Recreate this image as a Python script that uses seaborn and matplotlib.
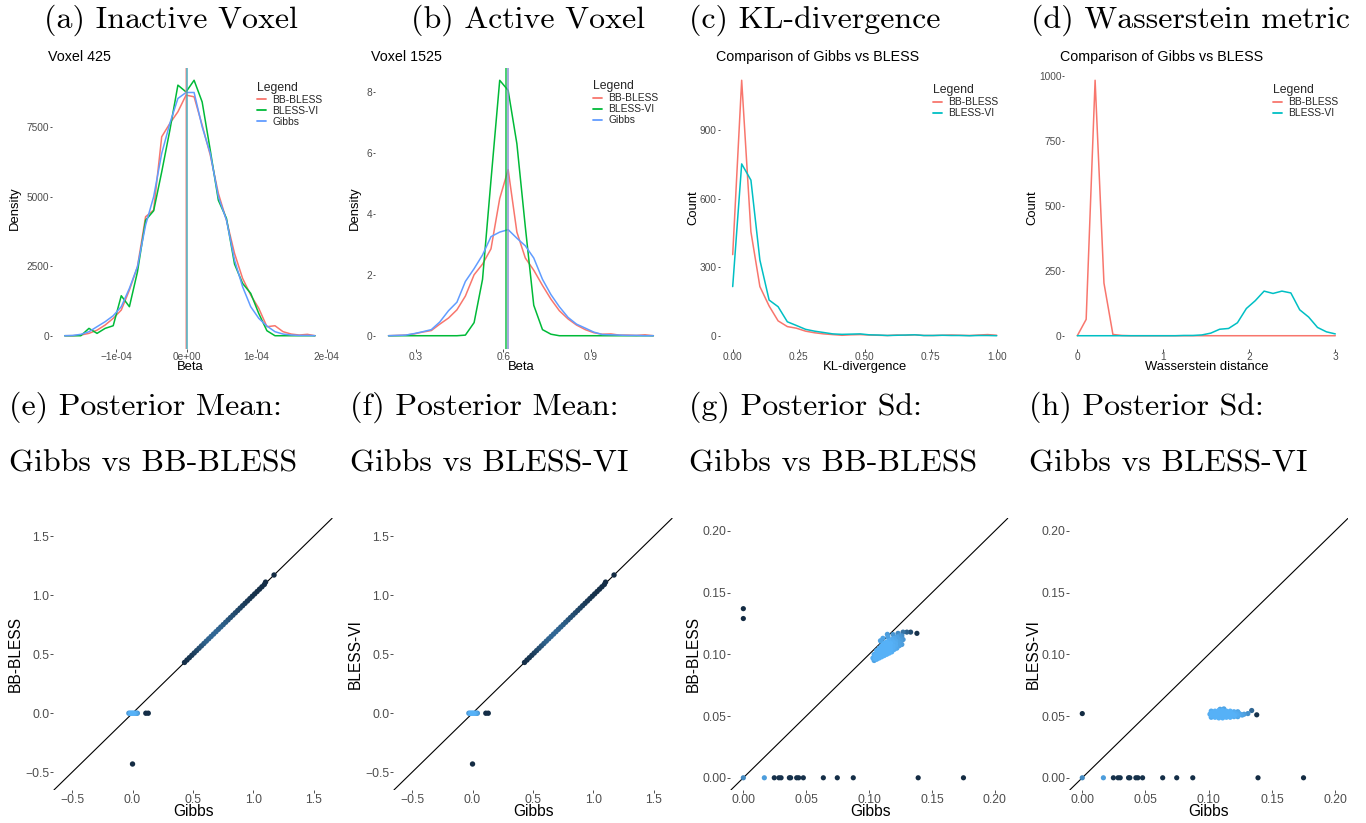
import numpy as np
import pandas as pd
import matplotlib
matplotlib.use("Agg")
import matplotlib.pyplot as plt
import seaborn as sns
from matplotlib.colors import LinearSegmentedColormap
from matplotlib.lines import Line2D

# ---------------- data ----------------
# (a) inactive voxel 425: frequency polygons of posterior samples (x in units of 1e-4)
a_beta = [-1.738, -1.623, -1.508, -1.392, -1.277, -1.161, -1.046, -0.931, -0.815, -0.700,
          -0.584, -0.469, -0.354, -0.238, -0.123, -0.007, 0.108, 0.223, 0.339, 0.454,
          0.570, 0.685, 0.800, 0.916, 1.031, 1.147, 1.262, 1.377, 1.493, 1.608, 1.724, 1.833]
a_bb = [0, 0, 25, 85, 200, 385, 625, 925, 1645, 2485, 4285, 4525, 7165, 7645, 8065, 8665,
        8605, 7585, 6505, 5125, 4165, 2965, 2065, 1465, 985, 325, 360, 145, 60, 25, 50, 0]
a_vi = [0, 0, 0, 265, 85, 265, 360, 1440, 1045, 2300, 4160, 4500, 5900, 7400, 9025, 8780,
        9200, 8420, 6680, 4880, 4225, 2580, 1885, 1525, 800, 180, 0, 0, 0, 0, 0, 0]
a_gibbs = [0, 10, 50, 145, 325, 505, 720, 1045, 1705, 2485, 3985, 5005, 6565, 7645, 8545, 8760,
           8760, 7525, 6565, 5005, 4165, 2725, 1765, 1045, 625, 350, 145, 60, 25, 10, 10, 0]
a_means = [-0.014, 0.008, 0.010]          # BB-BLESS, BLESS-VI, Gibbs (1e-4)

# (b) active voxel 1525
b_beta = [0.205, 0.234, 0.264, 0.293, 0.322, 0.352, 0.381, 0.411, 0.440, 0.469, 0.499,
          0.528, 0.557, 0.587, 0.616, 0.646, 0.675, 0.704, 0.734, 0.763, 0.792, 0.822,
          0.851, 0.881, 0.910, 0.939, 0.969, 0.998, 1.027, 1.057, 1.086, 1.115]
b_bb = [0, 0.01, 0.02, 0.06, 0.12, 0.17, 0.38, 0.58, 0.85, 1.30, 2.00, 2.35, 2.85, 4.50, 5.45,
        3.40, 2.55, 2.15, 1.65, 1.20, 0.82, 0.55, 0.35, 0.20, 0.10, 0.05, 0.06, 0.02, 0.02,
        0.01, 0.03, 0]
b_vi = [0, 0, 0, 0, 0, 0, 0, 0, 0, 0.02, 0.43, 1.85, 5.10, 8.38, 8.05, 6.30, 3.57, 1.00, 0.20,
        0.05, 0, 0, 0, 0, 0, 0, 0, 0, 0, 0, 0, 0]
b_gibbs = [0, 0.01, 0.02, 0.07, 0.13, 0.20, 0.45, 0.82, 1.10, 1.78, 2.20, 2.65, 3.25, 3.40,
           3.48, 3.20, 2.95, 2.55, 1.85, 1.35, 0.95, 0.60, 0.38, 0.25, 0.12, 0.04, 0.03, 0.02,
           0.01, 0.01, 0, 0]
b_means = [0.614, 0.607, 0.614]

# (c) KL-divergence counts
c_kl = [0.000, 0.034, 0.069, 0.103, 0.138, 0.172, 0.207, 0.241, 0.276, 0.310, 0.345, 0.379,
        0.414, 0.448, 0.483, 0.517, 0.552, 0.586, 0.621, 0.655, 0.690, 0.724, 0.759, 0.793,
        0.828, 0.862, 0.897, 0.931, 0.966, 1.000]
c_bb = [355, 1118, 455, 215, 130, 65, 40, 33, 20, 13, 8, 5, 2, 4, 5, 3, 2, 1, 3, 2, 4, 1, 1,
        2, 3, 2, 1, 3, 5, 2]
c_vi = [215, 752, 681, 331, 156, 127, 61, 45, 28, 20, 14, 8, 6, 7, 8, 4, 3, 1, 2, 3, 4, 1, 1,
        2, 1, 1, 0, 1, 1, 0]

# (d) Wasserstein distance counts
d_w = [0.000, 0.103, 0.207, 0.310, 0.414, 0.517, 0.621, 0.724, 0.828, 0.931, 1.034, 1.138,
       1.241, 1.345, 1.448, 1.552, 1.655, 1.759, 1.862, 1.966, 2.069, 2.172, 2.276, 2.379,
       2.483, 2.586, 2.690, 2.793, 2.897, 3.000]
d_bb = [0, 63, 985, 203, 5, 1, 0, 0, 0, 0, 0, 0, 0, 0, 0, 0, 0, 0, 0, 0, 0, 0, 0, 0, 0, 0, 0,
        0, 0, 0]
d_vi = [0, 0, 0, 0, 0, 0, 0, 0, 0, 0, 0, 0, 1, 1, 3, 10, 25, 28, 50, 105, 135, 172, 163, 172,
        165, 100, 72, 32, 15, 7]

# (e)/(f) posterior means
e_gibbs = [-0.03, -0.02, -0.01, 0.00, 0.01, 0.02, 0.03, 0.04, 0.11, 0.13, 0.00,
           0.43, 0.45, 0.47, 0.49, 0.51, 0.53, 0.55, 0.57, 0.59, 0.61, 0.63, 0.65, 0.67, 0.69,
           0.71, 0.73, 0.75, 0.77, 0.79, 0.81, 0.83, 0.85, 0.87, 0.89, 0.91, 0.93, 0.95, 0.97,
           0.99, 1.01, 1.03, 1.05, 1.07, 1.09, 1.10, 1.17]
e_bb = [0, 0, 0, 0, 0, 0, 0, 0, 0, 0, -0.43,
        0.43, 0.45, 0.47, 0.49, 0.51, 0.53, 0.55, 0.57, 0.59, 0.61, 0.63, 0.65, 0.67, 0.69,
        0.71, 0.73, 0.75, 0.77, 0.79, 0.81, 0.83, 0.85, 0.87, 0.89, 0.91, 0.93, 0.95, 0.97,
        0.99, 1.01, 1.03, 1.05, 1.07, 1.09, 1.11, 1.17]
e_dens = [0.8, 0.95, 1.0, 1.0, 1.0, 0.95, 0.9, 0.8, 0.02, 0.02, 0.0,
          0.02, 0.05, 0.08, 0.12, 0.15, 0.20, 0.25, 0.30, 0.35, 0.40, 0.42, 0.45, 0.45, 0.45,
          0.42, 0.40, 0.38, 0.35, 0.30, 0.28, 0.25, 0.22, 0.20, 0.18, 0.15, 0.12, 0.10, 0.08,
          0.06, 0.05, 0.04, 0.03, 0.02, 0.02, 0.01, 0.0]
f_gibbs = e_gibbs
f_vi = [0, 0, 0, 0, 0, 0, 0, 0, 0, 0, -0.43,
        0.43, 0.45, 0.47, 0.49, 0.51, 0.53, 0.55, 0.57, 0.59, 0.61, 0.63, 0.65, 0.67, 0.69,
        0.71, 0.73, 0.75, 0.77, 0.79, 0.81, 0.83, 0.85, 0.87, 0.89, 0.91, 0.93, 0.95, 0.97,
        0.99, 1.01, 1.03, 1.05, 1.07, 1.09, 1.11, 1.17]
f_dens = e_dens

# (g) posterior sd: Gibbs vs BB-BLESS
g_gibbs = [0.0, 0.0, 0.0, 0.0167, 0.0246, 0.0283, 0.0300, 0.0366, 0.0376, 0.0424, 0.0440,
           0.0477, 0.0636, 0.0747, 0.0874, 0.1390, 0.1750,
           0.103, 0.105, 0.107, 0.109, 0.111, 0.113, 0.115, 0.117, 0.119, 0.121, 0.123, 0.125, 0.127,
           0.104, 0.106, 0.108, 0.110, 0.112, 0.114, 0.116, 0.118, 0.120, 0.122, 0.124, 0.126,
           0.104, 0.106, 0.108, 0.110, 0.112, 0.114, 0.116, 0.118, 0.120, 0.122, 0.124, 0.126,
           0.105, 0.107, 0.109, 0.111, 0.113, 0.115, 0.117, 0.119, 0.121, 0.123, 0.125,
           0.105, 0.107, 0.109, 0.111, 0.113, 0.115, 0.117, 0.119, 0.121, 0.123, 0.125,
           0.109, 0.111, 0.115, 0.119, 0.123, 0.1145, 0.127, 0.130, 0.133, 0.138]
g_bb = [0.137, 0.129, 0.0, 0, 0, 0, 0, 0, 0, 0, 0, 0, 0, 0, 0, 0, 0,
        0.097, 0.098, 0.100, 0.101, 0.102, 0.104, 0.105, 0.106, 0.107, 0.109, 0.110, 0.111, 0.112,
        0.100, 0.103, 0.105, 0.107, 0.109, 0.110, 0.111, 0.112, 0.113, 0.114, 0.115, 0.115,
        0.095, 0.096, 0.097, 0.098, 0.099, 0.100, 0.101, 0.102, 0.104, 0.105, 0.107, 0.108,
        0.0995, 0.1015, 0.103, 0.105, 0.107, 0.108, 0.109, 0.110, 0.111, 0.1125, 0.113,
        0.0965, 0.0985, 0.0995, 0.1005, 0.102, 0.103, 0.104, 0.105, 0.107, 0.108, 0.109,
        0.111, 0.113, 0.114, 0.116, 0.117, 0.1162, 0.118, 0.118, 0.118, 0.117]
g_dens = [0.0, 0.0, 0.7, 0.85, 0.05, 0.05, 0.05, 0.05, 0.05, 0.05, 0.05, 0.05, 0.02, 0.02, 0.02, 0.0, 0.0,
          0.95, 0.97, 1.0, 1.0, 1.0, 1.0, 1.0, 1.0, 0.98, 0.95, 0.9, 0.85, 0.8,
          0.95, 1.0, 1.0, 1.0, 1.0, 1.0, 0.98, 0.95, 0.92, 0.88, 0.82, 0.75,
          0.9, 0.95, 1.0, 1.0, 1.0, 1.0, 1.0, 0.98, 0.95, 0.92, 0.88, 0.85,
          1.0, 1.0, 1.0, 1.0, 1.0, 1.0, 1.0, 0.97, 0.93, 0.88, 0.82,
          1.0, 1.0, 1.0, 1.0, 1.0, 1.0, 1.0, 0.98, 0.95, 0.9, 0.86,
          0.9, 0.9, 0.88, 0.8, 0.7, 0.85, 0.55, 0.4, 0.25, 0.05]

# (h) posterior sd: Gibbs vs BLESS-VI
h_gibbs = [0.0, 0.0, 0.0167, 0.0246, 0.0283, 0.0300, 0.0366, 0.0376, 0.0424, 0.0440,
           0.0477, 0.0636, 0.0747, 0.0874, 0.1390, 0.1750,
           0.102, 0.105, 0.108, 0.111, 0.114, 0.117, 0.120, 0.123,
           0.1025, 0.1055, 0.1085, 0.1115, 0.1145, 0.1175, 0.1205, 0.1235, 0.1265,
           0.101, 0.104, 0.107, 0.110, 0.113, 0.116, 0.119, 0.122, 0.125, 0.128, 0.131,
           0.1025, 0.1055, 0.1085, 0.1115, 0.1145, 0.1175, 0.1205, 0.1235,
           0.102, 0.105, 0.108, 0.111, 0.114, 0.117, 0.120, 0.123,
           0.109, 0.112, 0.134, 0.138]
h_vi = [0.052, 0.0, 0, 0, 0, 0, 0, 0, 0, 0, 0, 0, 0, 0, 0, 0,
        0.0490, 0.0490, 0.0485, 0.0485, 0.0490, 0.0490, 0.0495, 0.0495,
        0.0503, 0.0503, 0.0500, 0.0500, 0.0503, 0.0503, 0.0505, 0.0505, 0.0508,
        0.0515, 0.0515, 0.0515, 0.0515, 0.0515, 0.0515, 0.0515, 0.0515, 0.0515, 0.0515, 0.0520,
        0.0528, 0.0528, 0.0530, 0.0530, 0.0528, 0.0528, 0.0525, 0.0525,
        0.0540, 0.0540, 0.0545, 0.0545, 0.0540, 0.0540, 0.0535, 0.0535,
        0.0555, 0.0558, 0.0545, 0.0510]
h_dens = [0.0, 0.7, 0.85, 0.05, 0.05, 0.05, 0.05, 0.05, 0.05, 0.05, 0.05, 0.02, 0.02, 0.02, 0.0, 0.0,
          0.95, 1.0, 1.0, 1.0, 1.0, 1.0, 0.95, 0.9,
          1.0, 1.0, 1.0, 1.0, 1.0, 1.0, 1.0, 0.95, 0.9,
          0.95, 1.0, 1.0, 1.0, 1.0, 1.0, 1.0, 0.97, 0.92, 0.85, 0.75,
          1.0, 1.0, 1.0, 1.0, 1.0, 1.0, 0.97, 0.93,
          0.95, 1.0, 1.0, 1.0, 1.0, 1.0, 0.95, 0.9,
          0.9, 0.9, 0.45, 0.05]

# ---------------- styling ----------------
RED, GREEN, BLUE, TEAL = "#F8766D", "#00BA38", "#619CFF", "#00BFC4"
density_cmap = LinearSegmentedColormap.from_list("ggcont", ["#132B43", "#56B1F7"])

sns.set_theme(style="white")
plt.rcParams['font.family'] = ['Liberation Sans', 'DejaVu Sans']
plt.rcParams['axes.unicode_minus'] = True

W, H = 1366, 823
fig = plt.figure(figsize=(W / 100, H / 100), dpi=100)
fig.patch.set_facecolor("white")


def add_ax(box):
    l, t, r, b = box
    return fig.add_axes([l / W, 1 - b / H, (r - l) / W, (b - t) / H])


def style(ax, box, xlabel, ylabel, xlab_top, ylab_cx, tsize, lsize, tlen=1.8, tpad=0.4):
    l, t, r, b = box
    for s in ax.spines.values():
        s.set_visible(False)
    ax.grid(False)
    ax.set_facecolor("white")
    ax.tick_params(axis="both", length=tlen, width=0.6, color="#333333", pad=tpad,
                   labelsize=tsize, labelcolor="#4D4D4D", direction="out",
                   bottom=True, left=True)
    ax.set_xlabel(xlabel, fontsize=lsize, color="black")
    ax.set_ylabel(ylabel, fontsize=lsize, color="black")
    ax.xaxis.set_label_coords(0.5, -(xlab_top - b) / (b - t))
    ax.yaxis.set_label_coords((ylab_cx + 6 - l) / (r - l), 0.5)


def legend(ax, box, names, colors, xf, yf):
    l, t, r, b = box
    bp = 0.6                               # gives the title-to-keys gap
    off = bp * 7.4 * 100 / 72              # pixels of padding added by borderpad
    handles = [Line2D([], [], color=c, lw=1.3) for c in colors]
    lg = ax.legend(handles, names, title="Legend", loc="upper left",
                   bbox_to_anchor=(xf - off / (r - l), yf + off / (b - t)),
                   frameon=False, fontsize=7.4, title_fontsize=8.8, handlelength=0.9,
                   handletextpad=0.6, labelspacing=0.1, borderaxespad=0, borderpad=bp,
                   alignment="left")
    return lg


def subtitle(ax, box, text):
    l, t, r, b = box
    ax.text(-4 / (r - l), 1 + 10.5 / (b - t), text, transform=ax.transAxes,
            fontsize=10.3, ha="left", va="center", color="black")


TOP_T, TOP_B = 67.5, 348.5

# ---- (a)
box_a = (52.3, TOP_T, 327.4, TOP_B)
ax = add_ax(box_a)
xa = np.array(a_beta) * 1e-4
for yv, col in [(a_bb, RED), (a_vi, GREEN), (a_gibbs, BLUE)]:
    sns.lineplot(x=xa, y=yv, color=col, lw=1.1, ax=ax)
for m, col in zip(a_means, [RED, GREEN, BLUE]):
    ax.axvline(m * 1e-4, color=col, lw=1.1, alpha=0.6)
ax.set_xlim(-1.915e-4, 2.01e-4)
ax.set_ylim(-460, 9660)
ax.set_xticks([-1e-4, 0, 1e-4, 2e-4], ["\u22121e-04", "0e+00", "1e-04", "2e-04"])
ax.set_yticks([0, 2500, 5000, 7500], ["0", "2500", "5000", "7500"])
style(ax, box_a, "Beta", "Density", 361, 15, 7.3, 9.4)
legend(ax, box_a, ["BB-BLESS", "BLESS-VI", "Gibbs"], [RED, GREEN, BLUE], 0.743, 0.95)
subtitle(ax, box_a, "Voxel 425")

# ---- (b)
box_b = (375.3, TOP_T, 666.6, TOP_B)
ax = add_ax(box_b)
for yv, col in [(b_bb, RED), (b_vi, GREEN), (b_gibbs, BLUE)]:
    sns.lineplot(x=b_beta, y=yv, color=col, lw=1.1, ax=ax)
ax.axvline(b_means[0], color=RED, lw=1.1, alpha=0.6)
ax.axvline(b_means[2], color=BLUE, lw=1.1, alpha=0.7)
ax.axvline(b_means[1], color=GREEN, lw=1.1, alpha=0.9)
ax.set_xlim(0.1595, 1.1605)
ax.set_ylim(-0.419, 8.8)
ax.set_xticks([0.3, 0.6, 0.9], ["0.3", "0.6", "0.9"])
ax.set_yticks([0, 2, 4, 6, 8], ["0", "2", "4", "6", "8"])
style(ax, box_b, "Beta", "Density", 361, 355, 7.3, 9.4)
legend(ax, box_b, ["BB-BLESS", "BLESS-VI", "Gibbs"], [RED, GREEN, BLUE], 0.747, 0.955)
subtitle(ax, box_b, "Voxel 1525")

# ---- (c)
box_c = (719.5, TOP_T, 1009.9, TOP_B)
ax = add_ax(box_c)
sns.lineplot(x=c_kl, y=c_bb, color=RED, lw=1.1, ax=ax)
sns.lineplot(x=c_kl, y=c_vi, color=TEAL, lw=1.1, ax=ax)
ax.set_xlim(-0.05, 1.05)
ax.set_ylim(-55.9, 1173.9)
ax.set_xticks([0, 0.25, 0.5, 0.75, 1.0], ["0.00", "0.25", "0.50", "0.75", "1.00"])
ax.set_yticks([0, 300, 600, 900], ["0", "300", "600", "900"])
style(ax, box_c, "KL-divergence", "Count", 361, 693, 7.3, 9.4)
legend(ax, box_c, ["BB-BLESS", "BLESS-VI"], [RED, TEAL], 0.735, 0.94)
subtitle(ax, box_c, "Comparison of Gibbs vs BLESS")

# ---- (d)
box_d = (1064.4, TOP_T, 1348.2, TOP_B)
ax = add_ax(box_d)
sns.lineplot(x=d_w, y=d_bb, color=RED, lw=1.1, ax=ax)
sns.lineplot(x=d_w, y=d_vi, color=TEAL, lw=1.1, ax=ax)
ax.set_xlim(-0.15, 3.15)
ax.set_ylim(-49.25, 1034.25)
ax.set_xticks([0, 1, 2, 3], ["0", "1", "2", "3"])
ax.set_yticks([0, 250, 500, 750, 1000], ["0", "250", "500", "750", "1000"])
style(ax, box_d, "Wasserstein distance", "Count", 361, 1032.7, 7.3, 9.4)
legend(ax, box_d, ["BB-BLESS", "BLESS-VI"], [RED, TEAL], 0.735, 0.94)
subtitle(ax, box_d, "Comparison of Gibbs vs BLESS")


# ---- scatter panels
def scatter_panel(box, xs, ys, dens, xlim, ylim, ticks, ticklabels, ylabel, ylab_cx, size):
    ax = add_ax(box)
    df = pd.DataFrame({"x": xs, "y": ys, "d": dens}).sort_values("d", kind="stable")
    ax.axline((0, 0), slope=1, color="black", lw=0.8, zorder=1)
    sns.scatterplot(data=df, x="x", y="y", hue="d", palette=density_cmap, hue_norm=(0, 1),
                    s=size, linewidth=0, legend=False, ax=ax, zorder=2)
    ax.set_xlim(*xlim)
    ax.set_ylim(*ylim)
    ax.set_xticks(ticks, ticklabels)
    ax.set_yticks(ticks, ticklabels)
    style(ax, box, "Gibbs", ylabel, 804, ylab_cx, 8.8, 11.2, tlen=2.0, tpad=0.8)
    return ax


BOT_T, BOT_B = 518.3, 790.0
mean_ticks = [-0.5, 0.0, 0.5, 1.0, 1.5]
mean_labels = ["\u22120.5", "0.0", "0.5", "1.0", "1.5"]
sd_ticks = [0.0, 0.05, 0.10, 0.15, 0.20]
sd_labels = ["0.00", "0.05", "0.10", "0.15", "0.20"]

scatter_panel((53.3, BOT_T, 333.3, BOT_B), e_gibbs, e_bb, e_dens, (-0.655, 1.66), (-0.65, 1.65),
              mean_ticks, mean_labels, "BB-BLESS", 17, 15)
scatter_panel((393.3, BOT_T, 673.3, BOT_B), f_gibbs, f_vi, f_dens, (-0.655, 1.66), (-0.65, 1.65),
              mean_ticks, mean_labels, "BLESS-VI", 357, 15)
scatter_panel((730.0, BOT_T, 1010.0, BOT_B), g_gibbs, g_bb, g_dens, (-0.0106, 0.212),
              (-0.0099, 0.2102), sd_ticks, sd_labels, "BB-BLESS", 695, 14)
scatter_panel((1069.0, BOT_T, 1348.4, BOT_B), h_gibbs, h_vi, h_dens, (-0.0105, 0.2105),
              (-0.0099, 0.2102), sd_ticks, sd_labels, "BLESS-VI", 1035, 14)

# ---------------- captions (LaTeX-like serif) ----------------
cap_kw = dict(family="cmr10", fontsize=23, color="black", va="center")
top_caps = [("(a) Inactive Voxel", 171), ("(b) Active Voxel", 528),
            ("(c) KL-divergence", 815), ("(d) Wasserstein metric", 1190)]
for txt, cx in top_caps:
    fig.text(cx / W, 1 - 20 / H, txt, ha="center", **cap_kw)
bot_caps = [("(e) Posterior Mean:", "Gibbs vs BB-BLESS", 9),
            ("(f) Posterior Mean:", "Gibbs vs BLESS-VI", 350),
            ("(g) Posterior Sd:", "Gibbs vs BB-BLESS", 689),
            ("(h) Posterior Sd:", "Gibbs vs BLESS-VI", 1029)]
for l1, l2, lx in bot_caps:
    fig.text(lx / W, 1 - 407 / H, l1, ha="left", **cap_kw)
    fig.text(lx / W, 1 - 464 / H, l2, ha="left", **cap_kw)

fig.savefig("out.png", dpi=100, facecolor="white")
